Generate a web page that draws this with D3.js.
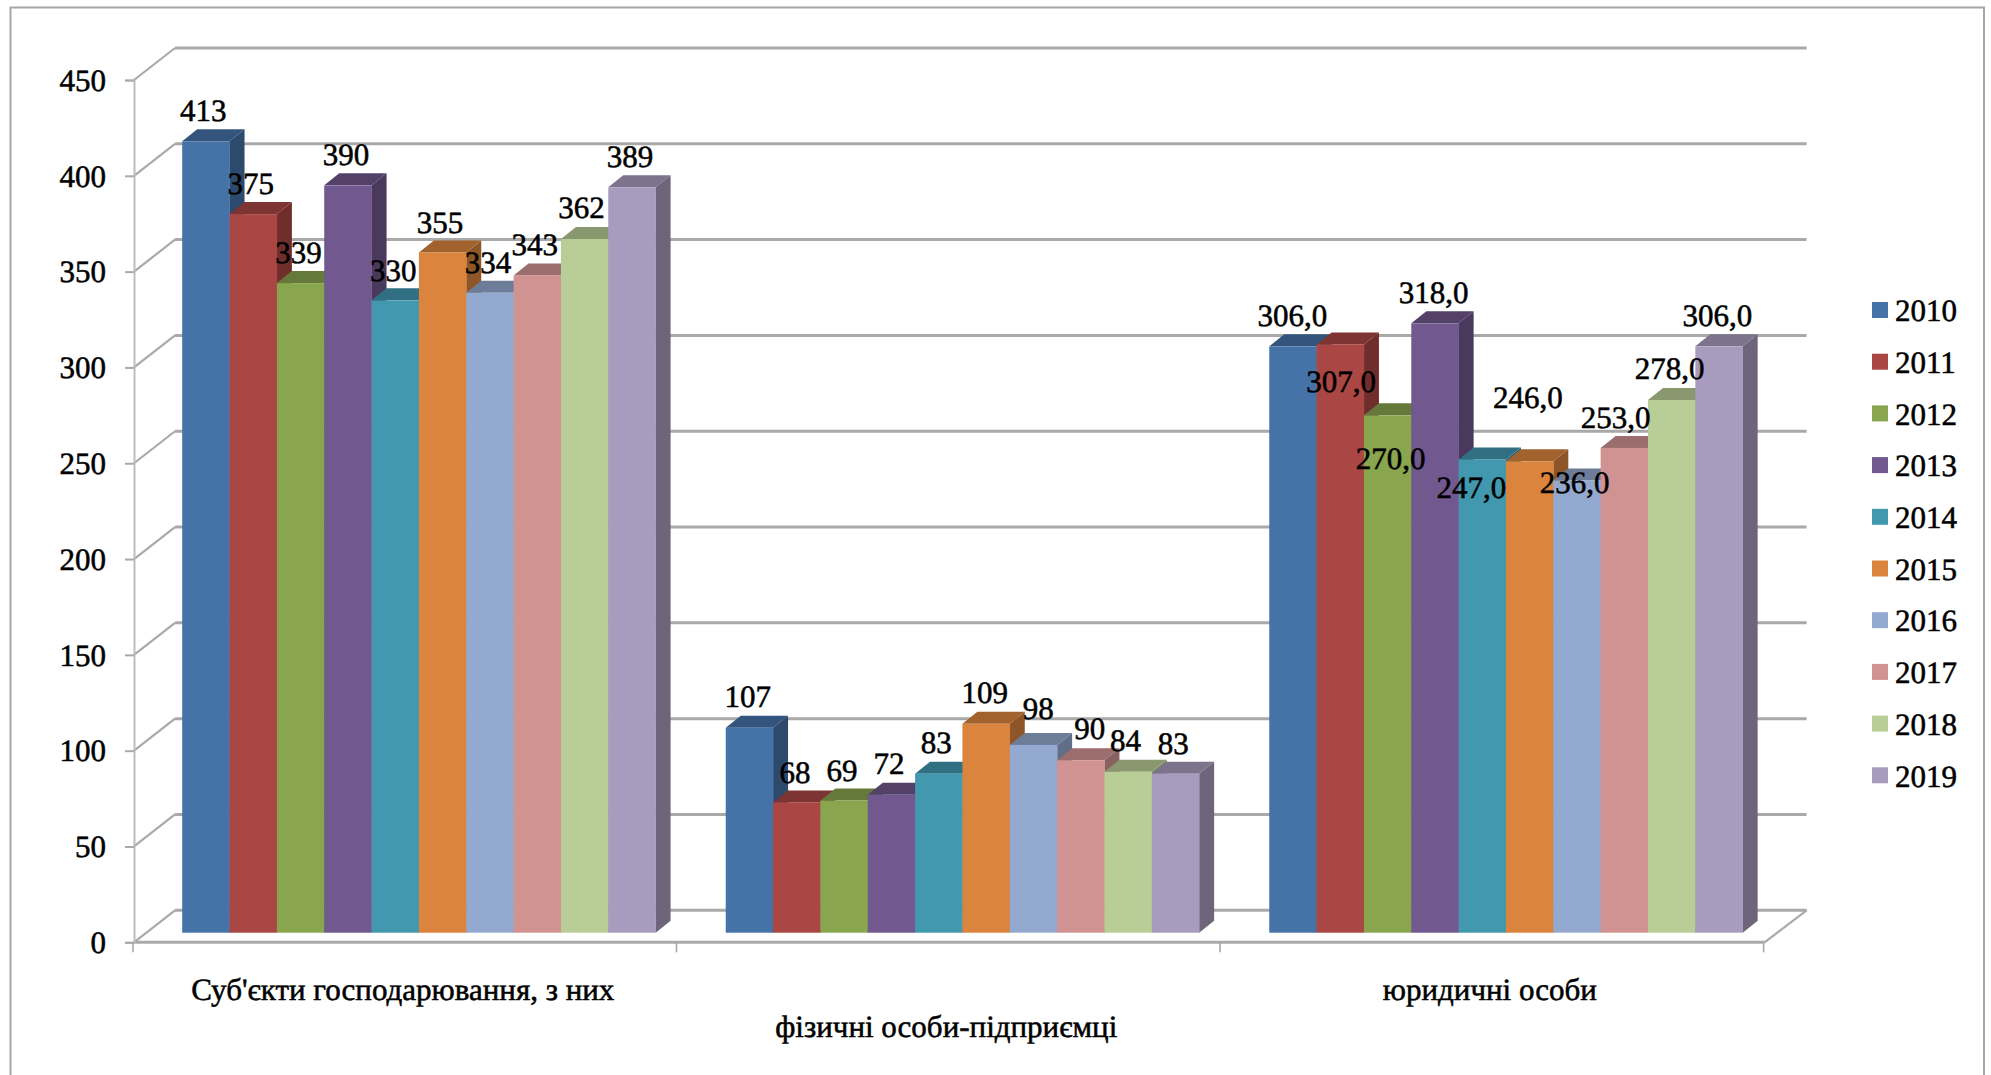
<!DOCTYPE html>
<html lang="uk">
<head>
<meta charset="utf-8">
<title>Суб'єкти господарювання, 2010–2019</title>
<script src="https://cdnjs.cloudflare.com/ajax/libs/d3/7.8.5/d3.min.js"></script>
<style>
  html, body { margin: 0; padding: 0; background: #fff; overflow: hidden; }
  svg { display: block; }
  text { font-family: "Liberation Serif", serif; fill: #000; stroke: #000; stroke-width: 0.55px; text-rendering: geometricPrecision; }
</style>
</head>
<body>
<svg id="chart" width="1991" height="1075"></svg>
<script>
// Chart values
const categories = ["Суб'єкти господарювання, з них", "фізичні особи-підприємці", "юридичні особи"];
const years = ["2010","2011","2012","2013","2014","2015","2016","2017","2018","2019"];
const entities = [413, 375, 339, 390, 330, 355, 334, 343, 362, 389];
const individuals = [107, 68, 69, 72, 83, 109, 98, 90, 84, 83];
const legalPersons = [306, 307, 270, 318, 247, 246, 236, 253, 278, 306];
const seriesByCategory = [entities, individuals, legalPersons];
const yTicks = [0, 50, 100, 150, 200, 250, 300, 350, 400, 450];
const palette = ["#4572a7","#aa4643","#89a54e","#71588f","#4198af","#db843d","#93a9cf","#d19392","#b9cd96","#a99bbd"];

// Hand placement of data labels relative to the front top edge of each bar
const labelShiftX = [
  [-2.5,-2.5,-2,-2,-2,-2.5,-2,-2.5,-3,-2],
  [-1.6,-1.8,-2.2,-2.3,-2.5,-1.3,4.7,9,-2.5,-2.2],
  [-0.6,0.8,2.9,-1.4,-11,-1.8,-2.3,-8.8,-2,-1.5]
];
const labelShiftY = [
  [-30.7,-30,-30,-30.5,-29.4,-30,-30,-30.5,-31,-30.7],
  [-30.4,-30,-30,-30.7,-30.7,-30.6,-36,-31,-30.8,-30],
  [-30.7,37.5,43.6,-30.4,28.6,-63.4,2.5,-30.3,-31,-30.7]
];

// Layout of the oblique box
const wallDx = 41, wallDy = 32;      // offset of the back wall from the front axis plane
const barDx = 15, barDy = 12;        // depth of each bar
const barLift = 9.6;                 // bars stand this far above the front floor edge
const gridColor = "#a9a9a9";
const fontSize = 31;

const svg = d3.select("#chart");

const y = d3.scaleLinear().domain([0, 450]).range([942.3, 80]);
const x0 = d3.scaleBand().domain(categories).range([134, 1764.6]);
const x1 = d3.scaleBand().domain(years).range([48.2, 48.2 + 473.4]);

// Outer chart frame, running off the bottom edge
svg.append("path")
  .attr("d", "M10.5,1080V7.5H1984V1080")
  .attr("fill", "none").attr("stroke", "#a6a6a6").attr("stroke-width", 2);

// Back wall gridlines with their diagonals on the side wall
const grid = svg.append("g").attr("fill", "none").attr("stroke", gridColor);
grid.selectAll("line.back").data(yTicks).join("line")
  .attr("class", "back")
  .attr("x1", 134 + wallDx).attr("x2", 1764.6 + wallDx + 1)
  .attr("y1", d => y(d) - wallDy).attr("y2", d => y(d) - wallDy)
  .attr("stroke-width", 3);
grid.selectAll("line.diag").data(yTicks).join("line")
  .attr("class", "diag")
  .attr("x1", 134).attr("x2", 134 + wallDx)
  .attr("y1", d => y(d)).attr("y2", d => y(d) - wallDy)
  .attr("stroke-width", 2.2);
// Floor: right diagonal and front edge
grid.append("line")
  .attr("x1", x0.range()[1]).attr("x2", x0.range()[1] + wallDx + 1)
  .attr("y1", y(0)).attr("y2", y(0) - wallDy)
  .attr("stroke-width", 2.2);
grid.append("line")
  .attr("x1", 134).attr("x2", x0.range()[1])
  .attr("y1", y(0)).attr("y2", y(0))
  .attr("stroke-width", 3);

// Value axis
const yAxis = svg.append("g")
  .attr("transform", "translate(134,0)")
  .call(d3.axisLeft(y).tickValues(yTicks).tickSize(9).tickPadding(19).tickFormat(d3.format("d")));
yAxis.select(".domain").attr("stroke", "#bdbdbd").attr("stroke-width", 2);
yAxis.selectAll(".tick line").attr("stroke", "#a9a9a9").attr("stroke-width", 2);
yAxis.selectAll("text").attr("font-size", fontSize).attr("font-family", "Liberation Serif").attr("dy", ".33em");

// Category boundary ticks
svg.append("g").selectAll("line")
  .data([...categories.map(c => x0(c)), x0.range()[1]])
  .join("line")
  .attr("x1", d => d - 1).attr("x2", d => d - 1)
  .attr("y1", y(0)).attr("y2", y(0) + 10)
  .attr("stroke", "#a9a9a9").attr("stroke-width", 1.6);

// Shade a base colour for the top and side faces of a bar
const shade = (hex, k) => {
  const c = d3.rgb(hex);
  return d3.rgb(c.r * k, c.g * k, c.b * k).formatHex();
};

// Bars, painted left to right so that each one covers the side of the previous
const rows = categories.flatMap((cat, g) => years.map((yr, i) => ({ cat, g, yr, i, value: seriesByCategory[g][i] })));
const bars = svg.append("g").selectAll("g").data(rows).join("g");
const barLeft = d => x0(d.cat) + x1(d.yr);
const barRight = d => barLeft(d) + x1.bandwidth();
const barBase = y(0) - barLift;
const barTop = d => y(d.value) - barLift;

bars.append("polygon") // side
  .attr("fill", d => shade(palette[d.i], 0.65))
  .attr("points", d => [[barRight(d), barTop(d)], [barRight(d) + barDx, barTop(d) - barDy], [barRight(d) + barDx, barBase - barDy], [barRight(d), barBase]].join(" "));
bars.append("polygon") // top
  .attr("fill", d => shade(palette[d.i], 0.74))
  .attr("points", d => [[barLeft(d), barTop(d)], [barRight(d), barTop(d)], [barRight(d) + barDx, barTop(d) - barDy], [barLeft(d) + barDx, barTop(d) - barDy]].join(" "));
bars.append("rect") // front
  .attr("fill", d => palette[d.i])
  .attr("x", d => barLeft(d)).attr("y", d => barTop(d))
  .attr("width", x1.bandwidth() + 0.3).attr("height", d => barBase - barTop(d));

// Data labels; the third group carries one decimal with a comma
const labelText = d => d.g === 2 ? d.value.toFixed(1).replace(".", ",") : String(d.value);
svg.append("g").selectAll("text").data(rows).join("text")
  .attr("font-size", fontSize)
  .attr("text-anchor", "middle")
  .attr("x", d => barLeft(d) + x1.bandwidth() / 2 + labelShiftX[d.g][d.i])
  .attr("y", d => barTop(d) + labelShiftY[d.g][d.i])
  .attr("dy", ".33em")
  .text(labelText);

// Category labels, the middle one dropped to a second row
svg.append("g").selectAll("text").data(categories).join("text")
  .attr("font-size", fontSize)
  .attr("text-anchor", "middle")
  .attr("x", d => x0(d) + x0.bandwidth() / 2 - 3)
  .attr("y", (d, i) => i === 1 ? 1037 : 1000)
  .text(d => d);

// Legend
const legend = svg.append("g").selectAll("g").data(years).join("g")
  .attr("transform", (d, i) => `translate(1872,${310 + i * 51.7})`);
legend.append("rect")
  .attr("x", 0).attr("y", -8).attr("width", 16).attr("height", 16)
  .attr("fill", (d, i) => palette[i]);
legend.append("text")
  .attr("x", 23).attr("y", 1).attr("dy", ".33em")
  .attr("font-size", fontSize)
  .text(d => d);
</script>
</body>
</html>
